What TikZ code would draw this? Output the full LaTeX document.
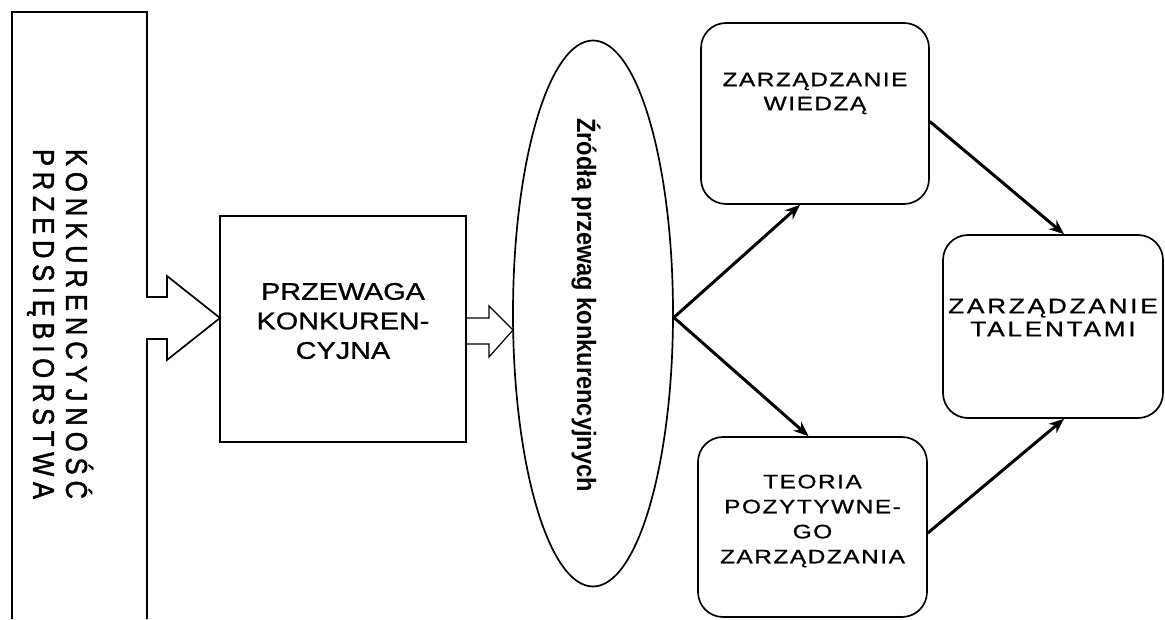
\documentclass[tikz,border=0pt]{standalone}
\usepackage{fontspec}
\setmainfont{Liberation Sans}
\newfontfamily\boxfont[FakeStretch=1.2,FakeBold=1]{Liberation Sans}
\newfontfamily\wideboxfont[FakeStretch=1.25,LetterSpace=8,FakeBold=1]{Liberation Sans}
\newfontfamily\talentfont[FakeStretch=1.25,LetterSpace=13,FakeBold=1]{Liberation Sans}
\newfontfamily\srcfont[FakeStretch=0.89]{Liberation Sans Bold}
\newfontfamily\konkfont[FakeStretch=0.85,FakeBold=1.5]{Liberation Sans}
\usetikzlibrary{shapes.geometric,arrows.meta}

\begin{document}
\begin{tikzpicture}[
    x=1pt, y=1pt,
    box/.style={rectangle, draw, line width=1.7pt, rounded corners=25pt, inner sep=0pt},
    plainbox/.style={rectangle, draw, line width=1.7pt, inner sep=0pt},
    boxtext/.style={align=center, inner sep=0pt},
    arrow/.style={-{Stealth[length=15pt,width=12pt]}, line width=3pt},
    blockarrow/.style={line width=1.2pt, line join=miter}
]

\useasboundingbox (0,0) rectangle (1165,619);

% Left column
\node[boxtext, rotate=-90, font=\konkfont\fontsize{30}{33}\selectfont] (konk) at (60,295)
    {\makebox[350pt][s]{K O N K U R E N C Y J N O Ś Ć}\\\makebox[350pt][s]{P R Z E D S I Ę B I O R S T W A}};
\draw[line width=1.7pt] (147,0) -- (147,280) -- (167,280) -- (167,259) -- (220,301)
    -- (167,343) -- (167,322) -- (147,322) -- (147,607) -- (12,607) -- (12,0);

% Competitive advantage
\node[plainbox, minimum width=246pt, minimum height=226pt] (prz) at (343,290) {};
\node[boxtext, font=\boxfont\fontsize{24}{29.5}\selectfont] (prztxt) at ([yshift=8pt]prz.center)
    {PRZEWAGA\\KONKUREN-\\CYJNA};
\draw[blockarrow] (466,301) -- (489,301) -- (489,313) -- (513,289) -- (489,262) -- (489,275) -- (466,275);

% Sources
\node[ellipse, draw, line width=1.7pt, minimum width=160pt, minimum height=546pt, inner sep=0pt] (src) at (593,305.5) {};
\node[boxtext, rotate=-90, font=\srcfont\fontsize{26.5}{30}\selectfont] (srctxt) at (586,314)
    {Źródła przewag konkurencyjnych};

% Right boxes
\node[box, minimum width=228pt, minimum height=181pt] (zw) at (815,505.5) {};
\node[boxtext, font=\wideboxfont\fontsize{19.5}{24}\selectfont] (zwtxt) at ([yshift=20pt]zw.center)
    {ZARZĄDZANIE\\WIEDZĄ};

\node[box, minimum width=229pt, minimum height=180pt] (tpz) at (812.5,92) {};
\node[boxtext, font=\wideboxfont\fontsize{19.5}{25}\selectfont] (tpztxt) at ([yshift=6pt]tpz.center)
    {TEORIA\\POZYTYWNE-\\GO\\ZARZĄDZANIA};

\node[box, minimum width=220pt, minimum height=183pt] (zt) at (1053,292.5) {};
\node[boxtext, font=\talentfont\fontsize{21}{23}\selectfont] (zttxt) at ([yshift=9pt]zt.center)
    {ZARZĄDZANIE\\TALENTAMI};

% Connections
\draw[arrow] ([yshift=-4pt]src.east) -- ([xshift=-15pt]zw.south);
\draw[arrow] ([yshift=-4pt]src.east) -- ([xshift=-4pt]tpz.north);
\draw[arrow] ([yshift=-8pt]zw.east) -- ([xshift=11pt]zt.north);
\draw[arrow] ([yshift=-6pt]tpz.east) -- ([xshift=11pt]zt.south);

\end{tikzpicture}
\end{document}
